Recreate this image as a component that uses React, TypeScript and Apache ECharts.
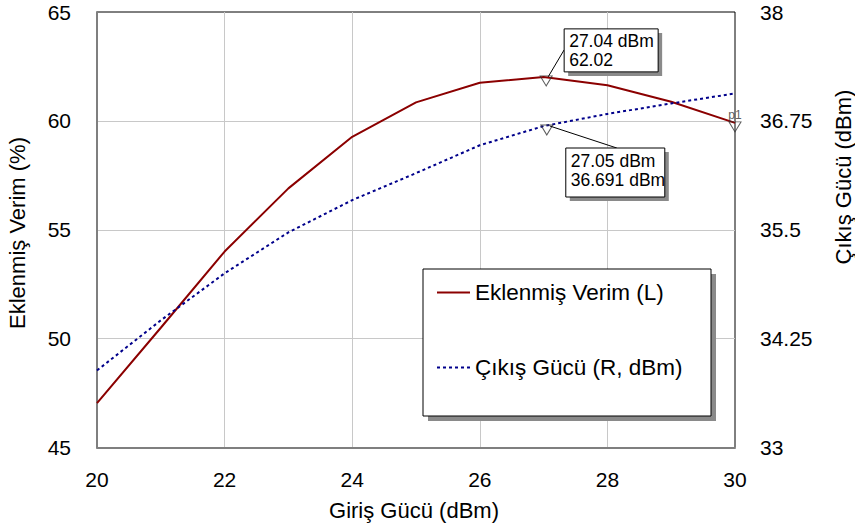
import React, { useEffect, useRef } from "react";
import * as echarts from "echarts";

const inputPower = [20, 21, 22, 23, 24, 25, 26, 27, 28, 29, 30];
const efficiency = [47.04, 50.5, 54.0, 56.9, 59.27, 60.85, 61.75, 62.02, 61.64, 60.88, 59.91];
const outputPower = [33.885, 34.46, 35.0, 35.47, 35.84, 36.15, 36.47, 36.69, 36.83, 36.95, 37.065];
const rightTicks = [33, 34.25, 35.5, 36.75, 38];

const markerEff = { x: 27.04, y: 62.02, label: ["27.04 dBm", "62.02"] };
const markerOut = { x: 27.05, y: 36.691, label: ["27.05 dBm", "36.691 dBm"] };
const markerP1 = { x: 30, y: 59.91, name: "p1" };

const FONT = "'Liberation Sans', Arial, sans-serif";

export default function App() {
  const ref = useRef<HTMLDivElement>(null);
  useEffect(() => {
    if (!ref.current) return;
    const chart = echarts.init(ref.current, null, { renderer: "svg" });
    const triangle = {
      type: "scatter",
      symbol: "triangle",
      symbolRotate: 180,
      symbolSize: [12, 10],
      symbolOffset: [0, 4],
      itemStyle: { color: "rgba(255,255,255,0)", borderColor: "#333", borderWidth: 1 },
      z: 5,
      silent: true,
    };
    chart.setOption({
      animation: false,
      textStyle: { fontFamily: FONT },
      grid: {
        left: 97,
        top: 12,
        width: 638,
        height: 435.5,
        show: true,
        borderColor: "#000",
        borderWidth: 1,
        backgroundColor: "transparent",
      },
      legend: {
        data: ["Eklenmiş Verim (L)", "Çıkış Gücü (R, dBm)"],
        orient: "vertical",
        left: 436,
        top: 281,
        itemGap: 52,
        itemWidth: 33,
        itemHeight: 14,
        padding: 0,
        z: 20,
        itemStyle: { color: "rgba(0,0,0,0)", borderWidth: 0, opacity: 0 },
        textStyle: { fontSize: 22.5, color: "#000", fontFamily: FONT },
      },
      xAxis: {
        type: "value",
        min: 20,
        max: 30,
        interval: 2,
        axisLine: { show: true, lineStyle: { color: "#7f7f7f", width: 2 } },
        axisTick: { show: false },
        axisLabel: { fontSize: 21, color: "#000", margin: 21, fontFamily: FONT },
        splitLine: { show: true, showMinLine: false, showMaxLine: false, lineStyle: { color: "#c8c8c8", width: 1 } },
      },
      yAxis: [
        {
          type: "value",
          min: 45,
          max: 65,
          interval: 5,
          axisLine: { show: true, lineStyle: { color: "#7f7f7f", width: 2 } },
          axisTick: { show: false },
          axisLabel: { fontSize: 21, color: "#000", margin: 26, fontFamily: FONT },
          splitLine: { show: true, showMinLine: false, showMaxLine: false, lineStyle: { color: "#c8c8c8", width: 1 } },
        },
        {
          type: "value",
          position: "right",
          min: 33,
          max: 38,
          axisLine: { show: false },
          axisTick: { show: false, customValues: rightTicks },
          axisLabel: { fontSize: 21, color: "#000", margin: 25, fontFamily: FONT, customValues: rightTicks },
          splitLine: { show: false },
        },
      ],
      series: [
        {
          name: "Eklenmiş Verim (L)",
          type: "line",
          yAxisIndex: 0,
          symbol: "none",
          data: inputPower.map((x, i) => [x, efficiency[i]]),
          lineStyle: { color: "#8b0000", width: 2 },
          itemStyle: { color: "#8b0000" },
          z: 3,
        },
        {
          name: "Çıkış Gücü (R, dBm)",
          type: "line",
          yAxisIndex: 1,
          symbol: "none",
          data: inputPower.map((x, i) => [x, outputPower[i]]),
          lineStyle: { color: "#00008b", width: 2, type: [3, 3] },
          itemStyle: { color: "#00008b" },
          z: 3,
        },
        {
          ...triangle,
          name: "mEff",
          yAxisIndex: 0,
          data: [
            [markerEff.x, markerEff.y],
            {
              value: [markerP1.x, markerP1.y],
              label: {
                show: true,
                formatter: markerP1.name,
                position: "top",
                distance: 0,
                fontSize: 12,
                color: "#333",
                fontFamily: FONT,
              },
            },
          ],
        },
        {
          ...triangle,
          name: "mOut",
          yAxisIndex: 1,
          data: [[markerOut.x, markerOut.y]],
        },
      ],
    });

    const pa = chart.convertToPixel({ xAxisIndex: 0, yAxisIndex: 0 }, [markerEff.x, markerEff.y]) as number[];
    const pb = chart.convertToPixel({ xAxisIndex: 0, yAxisIndex: 1 }, [markerOut.x, markerOut.y]) as number[];

    const callout = (bx: number, by: number, w: number, h: number, lines: string[], lx1: number, ly1: number, lx2: number, ly2: number) => [
      { type: "line", z: 6, shape: { x1: lx1, y1: ly1, x2: lx2, y2: ly2 }, style: { stroke: "#000", lineWidth: 1 } },
      { type: "rect", z: 6, shape: { x: bx + 4, y: by + 4, width: w, height: h }, style: { fill: "#8a8a8a" } },
      { type: "rect", z: 7, shape: { x: bx, y: by, width: w, height: h }, style: { fill: "#fff", stroke: "#000", lineWidth: 1 } },
      {
        type: "text",
        z: 8,
        x: bx + 5,
        y: by + 3,
        style: { text: lines.join("\n"), fontSize: 17.5, lineHeight: 19, fill: "#000", fontFamily: FONT },
      },
    ];

    chart.setOption({
      graphic: [
        // legend box
        { type: "rect", z: 8, shape: { x: 428, y: 274, width: 288, height: 147 }, style: { fill: "#8a8a8a" } },
        { type: "rect", z: 9, shape: { x: 423, y: 269, width: 288, height: 147 }, style: { fill: "#fff", stroke: "#000", lineWidth: 1 } },
        // axis titles
        {
          type: "text",
          x: 17,
          y: 233,
          rotation: Math.PI / 2,
          style: { text: "Eklenmiş Verim (%)", fontSize: 22, fill: "#000", align: "center", verticalAlign: "middle", fontFamily: FONT },
        },
        {
          type: "text",
          x: 843,
          y: 177,
          rotation: Math.PI / 2,
          style: { text: "Çıkış Gücü (dBm)", fontSize: 22, fill: "#000", align: "center", verticalAlign: "middle", fontFamily: FONT },
        },
        {
          type: "text",
          x: 414,
          y: 510,
          style: { text: "Giriş Gücü (dBm)", fontSize: 22, fill: "#000", align: "center", verticalAlign: "middle", fontFamily: FONT },
        },
        ...callout(pa[0] + 18, pa[1] - 48, 94, 43, markerEff.label, pa[0] + 2, pa[1], pa[0] + 18, pa[1] - 27),
        ...callout(pb[0] + 19, pb[1] + 22, 99, 49, markerOut.label, pb[0] + 3, pb[1], pb[0] + 70, pb[1] + 22),
      ],
    });

    return () => chart.dispose();
  }, []);
  return (
    <div
      ref={ref}
      style={{ position: "absolute", left: 0, top: 0, width: 855, height: 527, background: "#fff" }}
    />
  );
}
